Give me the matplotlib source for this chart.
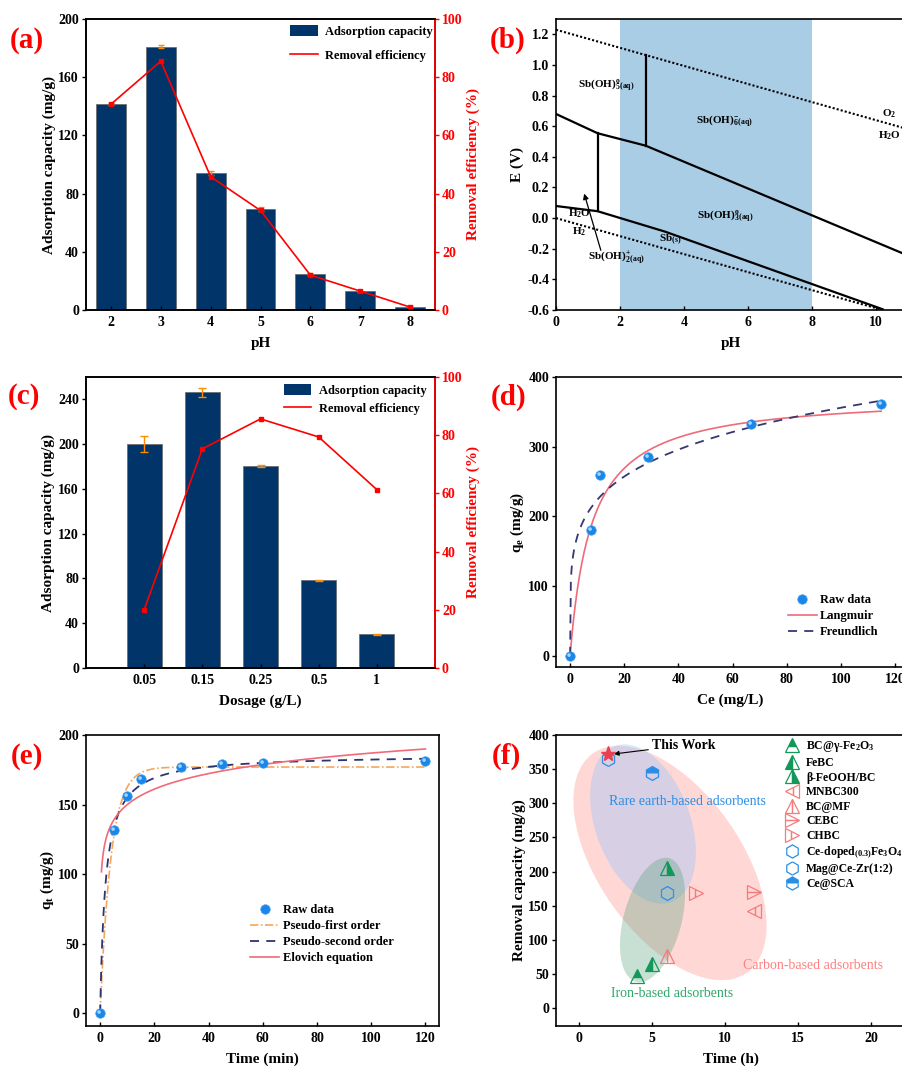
import numpy as np
import matplotlib
matplotlib.use("Agg")
import matplotlib.pyplot as plt
from matplotlib.patches import Ellipse, Patch
from matplotlib.lines import Line2D
from matplotlib.path import Path
from matplotlib.ticker import FormatStrFormatter, MultipleLocator

plt.rcParams["font.family"] = ["Liberation Serif", "DejaVu Serif"]
plt.rcParams["font.weight"] = "bold"
plt.rcParams["axes.labelweight"] = "bold"
plt.rcParams["mathtext.fontset"] = "custom"
plt.rcParams["mathtext.rm"] = "Liberation Serif:bold"
plt.rcParams["mathtext.it"] = "Liberation Serif:italic:bold"
plt.rcParams["mathtext.bf"] = "Liberation Serif:bold"
plt.rcParams["mathtext.default"] = "rm"
plt.rcParams["axes.linewidth"] = 1.2

NAVY = "#013468"
RED = "#ff0000"
ORANGE = "#ff8a00"
BLUE_PT = "#1a86e8"
BLUE_HI = "#9fd6ff"
GREEN = "#12995a"
PINK = "#f47c7c"
RARE = "#2a8ee6"
TICK_FS = 10
LABEL_FS = 11
LEG_FS = 9

# (a) pH effect
ph = [2, 3, 4, 5, 6, 7, 8]
cap_ph = [141.5, 181.0, 94.0, 69.5, 24.5, 12.8, 2.3]
cap_ph_err = [0.6, 0.8, 1.5, 1.2, 0.6, 0.5, 0.4]
eff_ph = [70.7, 85.5, 45.8, 34.2, 12.0, 6.5, 1.0]

# (b) Pourbaix diagram boundaries
o2_ph, o2_e = [0, 11], [1.23, 0.58]
h2_ph, h2_e = [0, 10.2], [0.0, -0.60]
upper_ph, upper_e = [0, 1.3, 2.8, 11], [0.68, 0.554, 0.473, -0.245]
lower_ph, lower_e = [0, 1.3, 3.4, 10.2], [0.079, 0.045, -0.088, -0.595]
vert1_ph, vert1_e = [1.3, 1.3], [0.554, 0.045]
vert2_ph, vert2_e = [2.8, 2.8], [0.473, 1.063]
band_ph = [2, 8]

# (c) dosage effect
dosage = ["0.05", "0.15", "0.25", "0.5", "1"]
cap_dose = [200.0, 246.3, 180.5, 78.3, 30.1]
cap_dose_err = [7.0, 4.0, 0.6, 0.6, 0.5]
eff_dose = [20.0, 75.3, 85.6, 79.4, 61.3]

# (d) isotherm
ce = [0, 7.7, 11.1, 28.7, 66.8, 114.8]
qe = [0, 180, 259, 285, 332, 361]
lang_qm, lang_kl = 375.0, 0.127
freu_kf, freu_ninv = 140.6, 0.2017

# (e) kinetics
t_min = [0, 5, 10, 15, 30, 45, 60, 120]
qt = [0, 132, 156.4, 168.3, 176.9, 179.3, 179.7, 181.1]
pfo_qe, pfo_k1 = 177.0, 0.25
pso_qe, pso_k2 = 186.0, 0.00269
elo_inv_beta, elo_ab = 16.1, 1110.0

# (f) comparison with literature
ref_names = [r"BC@γ-Fe$_2$O$_3$", "FeBC", "β-FeOOH/BC", "MNBC300", "BC@MF",
             "CEBC", "CHBC", r"Ce-doped$_{(0.3)}$Fe$_3$O$_4$",
             "Mag@Ce-Zr(1:2)", "Ce@SCA"]
ref_time = [4, 5, 6, 12, 6, 12, 8, 6, 2, 5]
ref_cap = [47, 65, 205, 143, 77, 170, 168, 168, 365, 345]
ref_group = ["iron", "iron", "iron", "carbon", "carbon", "carbon", "carbon",
             "rare", "rare", "rare"]
ref_marker = ["^", "^", "^", "<", "^", ">", ">", "h", "h", "h"]
ref_fill = ["top", "left", "right", "left", "left", "top", "left", "top",
            "left", "top"]
ref_solid = [True, True, True, False, False, False, False, False, False, True]
this_time, this_cap = 2, 372

W, H = 902, 1067
fig = plt.figure(figsize=(W / 100, H / 100), dpi=100)

# small off-centre highlight so the raw-data dots read as spheres;
# the lone MOVETO at (1, 1) pins the marker scale to the base circle
_hl = Path.circle((-0.3, 0.3), 0.38)
HILITE = Path(np.vstack([[1.0, 1.0], _hl.vertices]),
              [Path.MOVETO] + list(_hl.codes))


def box(l, t, r, b):
    return [l / W, 1 - b / H, (r - l) / W, (b - t) / H]


def style(ax):
    ax.tick_params(axis="x", direction="in", length=3, width=1,
                   labelsize=TICK_FS, pad=4, top=False)
    ax.tick_params(axis="y", direction="out", length=3, width=1,
                   labelsize=TICK_FS, pad=2, right=False)


def panel(x, y, s):
    fig.text(x / W, 1 - y / H, s, color=RED, fontsize=21,
             fontweight="bold", ha="center", va="center")


def twin_red(ax):
    ax2 = ax.twinx()
    ax2.set_ylim(0, 100)
    ax2.yaxis.set_major_locator(MultipleLocator(20))
    ax2.tick_params(axis="y", colors=RED, direction="out", length=3,
                    width=1, labelsize=TICK_FS, pad=2)
    ax2.spines["right"].set_color(RED)
    ax2.set_ylabel("Removal efficiency (%)", color=RED, fontsize=LABEL_FS,
                   labelpad=3)
    return ax2


def raw_points(ax, x, y):
    h = ax.plot(x, y, ls="none", marker="o", ms=6.8, color=BLUE_PT,
                mec="#3d9bf2", mew=0.5, label="Raw data", zorder=5)[0]
    ax.plot(x, y, ls="none", marker=HILITE, ms=6.8, color=BLUE_HI, mew=0,
            zorder=6)
    return h


# ---- (a)
ax = fig.add_axes(box(86, 19, 435, 310))
ax.bar(ph, cap_ph, width=0.6, color=NAVY, edgecolor="#666666", lw=0.5,
       yerr=cap_ph_err, error_kw=dict(ecolor=ORANGE, capsize=2, elinewidth=1))
ax.set_xlim(1.5, 8.5)
ax.set_ylim(0, 200)
ax.yaxis.set_major_locator(MultipleLocator(40))
ax.set_xticks(ph)
ax.set_xlabel("pH", fontsize=LABEL_FS, labelpad=6)
ax.set_ylabel("Adsorption capacity (mg/g)", fontsize=LABEL_FS, labelpad=2)
style(ax)
ax2 = twin_red(ax)
ax2.plot(ph, eff_ph, color=RED, lw=1.2, marker="s", ms=3)
ax.legend([Patch(facecolor=NAVY), Line2D([], [], color=RED, lw=1.2)],
          ["Adsorption capacity", "Removal efficiency"],
          loc="upper left", bbox_to_anchor=(0.585, 0.98), frameon=False,
          fontsize=LEG_FS, borderpad=0, borderaxespad=0, handlelength=2.2,
          handleheight=1.0, handletextpad=0.6, labelspacing=0.9)
panel(27, 40, "(a)")

# ---- (b)
ax = fig.add_axes(box(556, 19, 905, 310))
ax.axvspan(*band_ph, color="#aacde6", lw=0, zorder=0)
ax.plot(o2_ph, o2_e, color="k", lw=1.5, ls=(0, (1, 1)))
ax.plot(h2_ph, h2_e, color="k", lw=1.5, ls=(0, (1, 1)))
for xs, ys in [(upper_ph, upper_e), (lower_ph, lower_e),
               (vert1_ph, vert1_e), (vert2_ph, vert2_e)]:
    ax.plot(xs, ys, color="k", lw=1.6)
ax.set_xlim(0, 10.9)
ax.set_ylim(-0.6, 1.3)
ax.xaxis.set_major_locator(MultipleLocator(2))
ax.yaxis.set_major_locator(MultipleLocator(0.2))
ax.yaxis.set_major_formatter(FormatStrFormatter("%.1f"))
ax.set_xlabel("pH", fontsize=LABEL_FS, labelpad=6)
ax.set_ylabel("E (V)", fontsize=LABEL_FS, labelpad=2)
style(ax)
fs_b = 8
ax.text(1.57, 0.87, r"Sb(OH)$_{5}^{o}{}_{(aq)}$", fontsize=fs_b, ha="center", va="center")
ax.text(5.28, 0.63, r"Sb(OH)$_{6}^{-}{}_{(aq)}$", fontsize=fs_b, ha="center", va="center")
ax.text(5.28, 0.01, r"Sb(OH)$_{3}^{o}{}_{(aq)}$", fontsize=fs_b, ha="center", va="center")
ax.text(3.56, -0.14, r"Sb$_{(s)}$", fontsize=fs_b, ha="center", va="center")
ax.text(0.38, 0.03, r"H$_2$O", fontsize=fs_b, ha="left", va="center")
ax.text(0.72, -0.09, r"H$_2$", fontsize=fs_b, ha="center", va="center")
ax.text(1.9, -0.26, r"Sb(OH)$_{2}^{+}{}_{(aq)}$", fontsize=fs_b, ha="center", va="center")
ax.text(10.4, 0.68, r"O$_2$", fontsize=fs_b, ha="center", va="center")
ax.text(10.4, 0.54, r"H$_2$O", fontsize=fs_b, ha="center", va="center")
ax.annotate("", xy=(0.88, 0.16), xytext=(1.40, -0.21),
            arrowprops=dict(arrowstyle="-|>", color="k", lw=0.9,
                            mutation_scale=8, shrinkA=0, shrinkB=0))
panel(508, 40, "(b)")

# ---- (c)
ax = fig.add_axes(box(86, 377, 435, 668))
xc = np.arange(len(dosage))
ax.bar(xc, cap_dose, width=0.6, color=NAVY, edgecolor="#666666", lw=0.5,
       yerr=cap_dose_err, error_kw=dict(ecolor=ORANGE, capsize=3, elinewidth=1))
ax.set_xlim(-1, 5)
ax.set_ylim(0, 260)
ax.yaxis.set_major_locator(MultipleLocator(40))
ax.set_xticks(xc)
ax.set_xticklabels(dosage)
ax.set_xlabel("Dosage (g/L)", fontsize=LABEL_FS, labelpad=6)
ax.set_ylabel("Adsorption capacity (mg/g)", fontsize=LABEL_FS, labelpad=2)
style(ax)
ax2 = twin_red(ax)
ax2.plot(xc, eff_dose, color=RED, lw=1.2, marker="s", ms=3)
ax.legend([Patch(facecolor=NAVY), Line2D([], [], color=RED, lw=1.2)],
          ["Adsorption capacity", "Removal efficiency"],
          loc="upper left", bbox_to_anchor=(0.567, 0.975), frameon=False,
          fontsize=LEG_FS, borderpad=0, borderaxespad=0, handlelength=2.2,
          handleheight=1.0, handletextpad=0.6, labelspacing=0.4)
panel(24, 397, "(c)")

# ---- (d)
ax = fig.add_axes(box(556, 377, 905, 667))
c_fit = np.linspace(0, max(ce), 400)
ax.plot(c_fit, lang_qm * lang_kl * c_fit / (1 + lang_kl * c_fit),
        color="#f06a7a", lw=1.2, label="Langmuir")
ax.plot(c_fit, freu_kf * c_fit ** freu_ninv, color="#34396f", lw=1.3,
        ls=(0, (5, 4)), label="Freundlich")
hr = raw_points(ax, ce, qe)
ax.set_xlim(-5.2, 123.6)
ax.set_ylim(-16, 400)
ax.xaxis.set_major_locator(MultipleLocator(20))
ax.yaxis.set_major_locator(MultipleLocator(100))
ax.set_xlabel("Ce (mg/L)", fontsize=LABEL_FS, labelpad=6)
ax.set_ylabel(r"q$_e$ (mg/g)", fontsize=LABEL_FS, labelpad=2)
style(ax)
h, l = ax.get_legend_handles_labels()
ax.legend([hr, h[0], h[1]], ["Raw data", l[0], l[1]], loc="upper left",
          bbox_to_anchor=(0.665, 0.252), frameon=False, fontsize=LEG_FS,
          borderpad=0, borderaxespad=0, handlelength=2.3,
          handletextpad=0.25, labelspacing=0.32)
panel(509, 397, "(d)")

# ---- (e)
ax = fig.add_axes(box(86, 735, 439, 1026))
t_fit = np.linspace(0, max(t_min), 600)
t_elo = np.linspace(0.5, max(t_min), 600)
ax.plot(t_fit, pfo_qe * (1 - np.exp(-pfo_k1 * t_fit)), color="#f7a65a",
        lw=1.2, ls=(0, (5, 1.5, 1, 1.5)), label="Pseudo-first order")
ax.plot(t_fit, pso_qe ** 2 * pso_k2 * t_fit / (1 + pso_qe * pso_k2 * t_fit),
        color="#2e3470", lw=1.3, ls=(0, (5, 4)), label="Pseudo-second order")
ax.plot(t_elo, elo_inv_beta * np.log(1 + elo_ab * t_elo), color="#f06a7a",
        lw=1.2, label="Elovich equation")
hr = raw_points(ax, t_min, qt)
ax.set_xlim(-5.2, 125)
ax.set_ylim(-9, 200)
ax.xaxis.set_major_locator(MultipleLocator(20))
ax.yaxis.set_major_locator(MultipleLocator(50))
ax.set_xlabel("Time (min)", fontsize=LABEL_FS, labelpad=6)
ax.set_ylabel(r"q$_t$ (mg/g)", fontsize=LABEL_FS, labelpad=2)
style(ax)
h, l = ax.get_legend_handles_labels()
ax.legend([hr, h[0], h[1], h[2]], ["Raw data", l[0], l[1], l[2]],
          loc="upper left", bbox_to_anchor=(0.465, 0.418), frameon=False,
          fontsize=LEG_FS, borderpad=0, borderaxespad=0, handlelength=2.3,
          handletextpad=0.3, labelspacing=0.32)
panel(27, 757, "(e)")

# ---- (f)
ax = fig.add_axes(box(556, 735, 905, 1026))
inch = fig.dpi_scale_trans
for (cx, cy, w, hh, ang, fc, al) in [
        (670, 863, 2.68, 1.43, -55, "#ff9e9a", 0.4),
        (643, 824, 1.66, 0.95, -70, "#8dc1fc", 0.35),
        (652.5, 920, 1.28, 0.58, 75, "#489b70", 0.3)]:
    e = Ellipse((cx / 100, (H - cy) / 100), w, hh, angle=ang, facecolor=fc,
                alpha=al, lw=0, transform=inch, zorder=1)
    e.set_clip_path(ax.patch)
    ax.add_patch(e)
group_color = {"iron": GREEN, "carbon": PINK, "rare": RARE}
handles = []
for i, name in enumerate(ref_names):
    col = group_color[ref_group[i]]
    kw = dict(marker=ref_marker[i], fillstyle=ref_fill[i], ls="none",
              mec=col, mew=0.9,
              mfc=col if ref_solid[i] else "none", mfcalt="none")
    ax.plot(ref_time[i], ref_cap[i], ms=10, zorder=4, **kw)
    handles.append(Line2D([], [], ms=9.5, **kw))
ax.plot(this_time, this_cap, marker="*", ms=11, color="#e8404f", ls="none",
        zorder=5)
ax.annotate("This Work", xy=(this_time + 0.3, this_cap), xytext=(7.2, 385),
            fontsize=10, ha="center", va="center",
            arrowprops=dict(arrowstyle="-|>", color="k", lw=0.8,
                            mutation_scale=7, shrinkA=1, shrinkB=1))
ax.text(7.44, 303, "Rare earth-based adsorbents", color=RARE, fontsize=10,
        fontweight="normal", ha="center", va="center")
ax.text(16.0, 63, "Carbon-based adsorbents", color="#ff8080", fontsize=10,
        fontweight="normal", ha="center", va="center")
ax.text(6.4, 22, "Iron-based adsorbents", color="#2ea86a", fontsize=10,
        fontweight="normal", ha="center", va="center")
ax.set_xlim(-1.57, 22.3)
ax.set_ylim(-26, 400)
ax.xaxis.set_major_locator(MultipleLocator(5))
ax.yaxis.set_major_locator(MultipleLocator(50))
ax.set_xlabel("Time (h)", fontsize=LABEL_FS, labelpad=6)
ax.set_ylabel("Removal capacity (mg/g)", fontsize=LABEL_FS, labelpad=2)
style(ax)
ax.legend(handles, ref_names, loc="upper left", bbox_to_anchor=(0.656, 0.985),
          frameon=False, fontsize=8.5, borderpad=0, borderaxespad=0,
          handlelength=1.2, handletextpad=0.6, labelspacing=0.22)
panel(506, 756, "(f)")

fig.savefig("out.png", dpi=100)
